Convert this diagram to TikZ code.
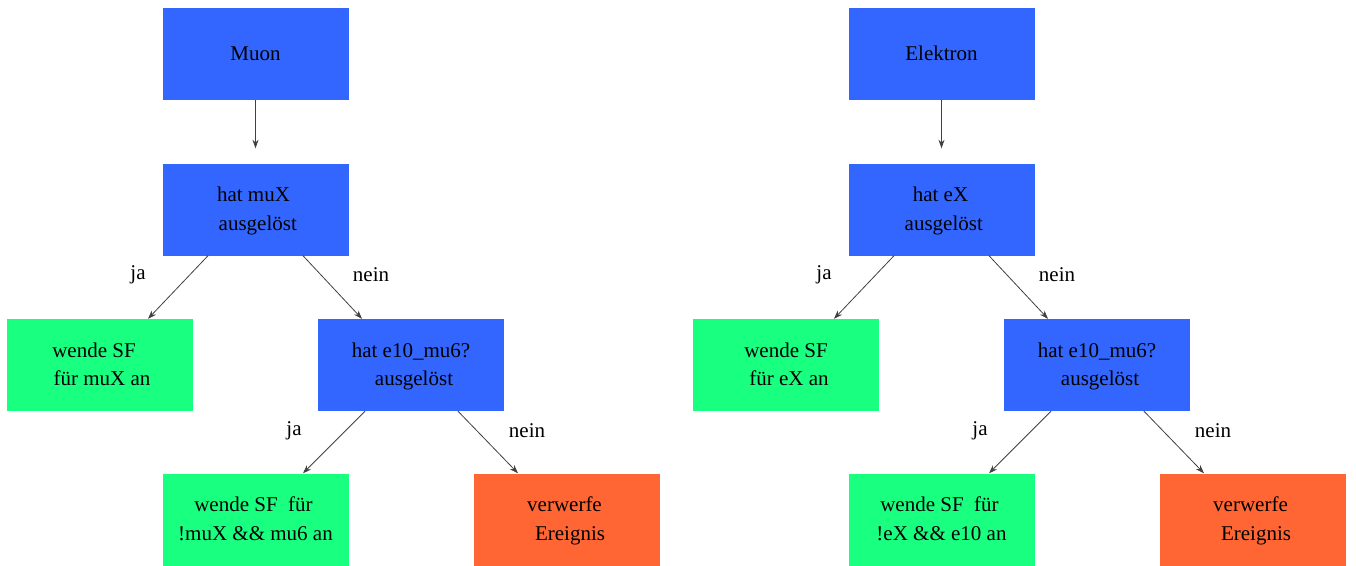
\documentclass[tikz,border=0pt]{standalone}
\usepackage{fontspec}
\setmainfont{Liberation Serif}
\usetikzlibrary{arrows.meta,calc}
\definecolor{decblue}{HTML}{3366FF}
\definecolor{decgreen}{HTML}{19FF80}
\definecolor{decred}{HTML}{FF6633}
\begin{document}
\begin{tikzpicture}[x=1pt,y=-1pt,
  box/.style={minimum width=186pt,minimum height=92pt,inner sep=0pt,
    align=center,font=\fontsize{21}{28.5}\selectfont,text depth=1.5pt},
  test/.style={box,fill=decblue},
  action/.style={box,fill=decgreen},
  reject/.style={box,fill=decred},
  lbl/.style={font=\fontsize{21}{25}\selectfont,inner sep=0pt},
  edge/.style={draw=black!75,line width=0.8pt,-{Stealth[length=8.5pt,width=6pt]}}]
\useasboundingbox (0,0) rectangle (1356,565);

% ---- Muon tree ----
\node[test]   (mu)    at (255.5,54)  {Muon};
\node[test]   (muX)   at (255.5,209.5) {hat muX\hspace*{4pt}\\\hspace*{4.6pt}ausgelöst};
\node[action] (muSF)  at (100,365)   {wende SF\hspace*{12pt}\\\hspace*{4pt}für muX an};
\node[test]   (muE)   at (411,365)   {hat e10\_mu6?\\\hspace*{6pt}ausgelöst};
\node[action] (muSF2) at (255.5,519.5) {wende SF\ \ für\hspace*{4pt}\\!muX \&\& mu6 an};
\node[reject] (muRej) at (567,519.5) {verwerfe\hspace*{5pt}\\\hspace*{6pt}Ereignis};

\draw[edge,shorten >=15pt] (mu) -- (muX);
\draw[edge] ($(muX.south)+(-47.5,0)$) -- ($(muSF.north)+(48,0)$);
\draw[edge] ($(muX.south)+(47.5,0)$) -- ($(muE.north)+(-49,0)$);
\draw[edge] ($(muE.south)+(-46,0)$) -- ($(muSF2.north)+(47.5,0)$);
\draw[edge] ($(muE.south)+(47,0)$) -- ($(muRej.north)+(-49,0)$);

\node[lbl] (muJa1)   at (138,274.5) {ja};
\node[lbl] (muNein1) at (371,274.5) {nein};
\node[lbl] (muJa2)   at (294,430.5) {ja};
\node[lbl] (muNein2) at (527,430.5) {nein};

% ---- Elektron tree ----
\node[test]   (el)    at (941.5,54)  {Elektron};
\node[test]   (eX)    at (941.5,209.5) {hat eX\hspace*{2pt}\\\hspace*{4.6pt}ausgelöst};
\node[action] (eSF)   at (786,365)   {wende SF\\\hspace*{6pt}für eX an};
\node[test]   (eE)    at (1097,365)  {hat e10\_mu6?\\\hspace*{6pt}ausgelöst};
\node[action] (eSF2)  at (941.5,519.5) {wende SF\ \ für\hspace*{4pt}\\!eX \&\& e10 an};
\node[reject] (eRej)  at (1253,519.5) {verwerfe\hspace*{5pt}\\\hspace*{6pt}Ereignis};

\draw[edge,shorten >=15pt] (el) -- (eX);
\draw[edge] ($(eX.south)+(-47.5,0)$) -- ($(eSF.north)+(48,0)$);
\draw[edge] ($(eX.south)+(47.5,0)$) -- ($(eE.north)+(-49,0)$);
\draw[edge] ($(eE.south)+(-46,0)$) -- ($(eSF2.north)+(47.5,0)$);
\draw[edge] ($(eE.south)+(47,0)$) -- ($(eRej.north)+(-49,0)$);

\node[lbl] (eJa1)   at (824,274.5)  {ja};
\node[lbl] (eNein1) at (1057,274.5) {nein};
\node[lbl] (eJa2)   at (980,430.5)  {ja};
\node[lbl] (eNein2) at (1213,430.5) {nein};
\end{tikzpicture}
\end{document}
